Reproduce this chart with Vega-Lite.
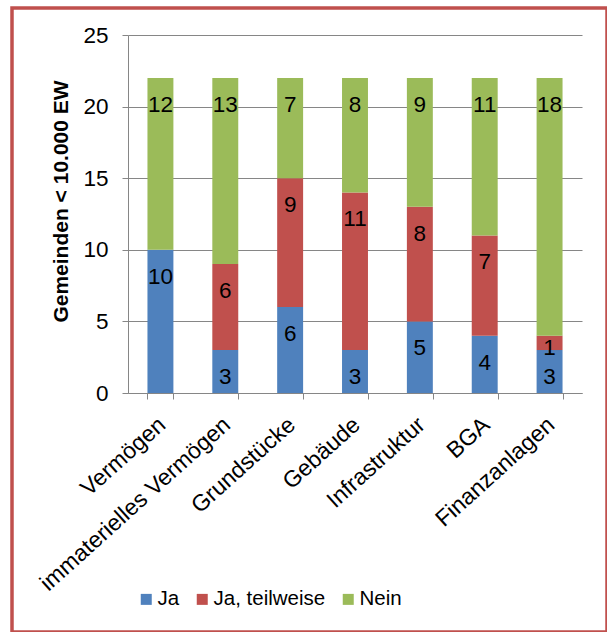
{
  "$schema": "https://vega.github.io/schema/vega-lite/v6.json",
  "autosize": {"type": "none"},
  "padding": {"left": 12, "top": 8, "right": 0, "bottom": 0},
  "width": 595,
  "height": 624,
  "background": "white",
  "config": {
    "font": "Liberation Sans",
    "view": {"stroke": "#C0504D", "strokeWidth": 3.5},
    "axis": {
      "domainColor": "#868686",
      "tickColor": "#868686",
      "gridColor": "#868686",
      "labelColor": "black",
      "titleColor": "black",
      "labelFont": "Liberation Sans",
      "titleFont": "Liberation Sans",
      "labelFontSize": 22.5
    }
  },
  "data": {
    "values": [
      {"Kategorie": "Vermögen", "Antwort": "Ja", "Anzahl": 10},
      {"Kategorie": "Vermögen", "Antwort": "Ja, teilweise", "Anzahl": 0},
      {"Kategorie": "Vermögen", "Antwort": "Nein", "Anzahl": 12},
      {"Kategorie": "immaterielles Vermögen", "Antwort": "Ja", "Anzahl": 3},
      {"Kategorie": "immaterielles Vermögen", "Antwort": "Ja, teilweise", "Anzahl": 6},
      {"Kategorie": "immaterielles Vermögen", "Antwort": "Nein", "Anzahl": 13},
      {"Kategorie": "Grundstücke", "Antwort": "Ja", "Anzahl": 6},
      {"Kategorie": "Grundstücke", "Antwort": "Ja, teilweise", "Anzahl": 9},
      {"Kategorie": "Grundstücke", "Antwort": "Nein", "Anzahl": 7},
      {"Kategorie": "Gebäude", "Antwort": "Ja", "Anzahl": 3},
      {"Kategorie": "Gebäude", "Antwort": "Ja, teilweise", "Anzahl": 11},
      {"Kategorie": "Gebäude", "Antwort": "Nein", "Anzahl": 8},
      {"Kategorie": "Infrastruktur", "Antwort": "Ja", "Anzahl": 5},
      {"Kategorie": "Infrastruktur", "Antwort": "Ja, teilweise", "Anzahl": 8},
      {"Kategorie": "Infrastruktur", "Antwort": "Nein", "Anzahl": 9},
      {"Kategorie": "BGA", "Antwort": "Ja", "Anzahl": 4},
      {"Kategorie": "BGA", "Antwort": "Ja, teilweise", "Anzahl": 7},
      {"Kategorie": "BGA", "Antwort": "Nein", "Anzahl": 11},
      {"Kategorie": "Finanzanlagen", "Antwort": "Ja", "Anzahl": 3},
      {"Kategorie": "Finanzanlagen", "Antwort": "Ja, teilweise", "Anzahl": 1},
      {"Kategorie": "Finanzanlagen", "Antwort": "Nein", "Anzahl": 18}
    ]
  },
  "transform": [
    {"stack": "Anzahl", "groupby": ["Kategorie"], "sort": [{"field": "Antwort", "order": "ascending"}], "as": ["y0", "y1"]},
    {"calculate": "datum.y1 - min(1.88, 0.84 * datum.Anzahl)", "as": "labelPos"}
  ],
  "encoding": {
    "x": {
      "field": "Kategorie",
      "type": "nominal",
      "sort": null,
      "scale": {"range": [116, 570], "paddingInner": 0.6, "paddingOuter": 0.3},
      "axis": {
        "title": null,
        "offset": -239,
        "labelAngle": -42,
        "tickSize": 6,
        "tickBand": "extent",
        "labelPadding": 14,
        "labelOffset": -6,
        "labelLimit": 400,
        "labelFontSize": 23,
        "grid": false
      }
    }
  },
  "layer": [
    {
      "mark": {"type": "bar"},
      "encoding": {
        "y": {
          "field": "y1",
          "type": "quantitative",
          "scale": {"domain": [0, 25], "range": [385, 27], "nice": false},
          "axis": {
            "title": "Gemeinden < 10.000 EW",
            "titleFontSize": 21,
            "titleFontWeight": "bold",
            "titleY": 193,
            "offset": -116,
            "values": [0, 5, 10, 15, 20, 25],
            "tickSize": 6,
            "labelPadding": 14,
            "titlePadding": 11,
            "grid": true
          }
        },
        "y2": {"field": "y0"},
        "color": {
          "field": "Antwort",
          "type": "nominal",
          "scale": {"domain": ["Ja", "Ja, teilweise", "Nein"], "range": ["#4F81BD", "#C0504D", "#9BBB59"]},
          "legend": {
            "title": null,
            "orient": "none",
            "direction": "horizontal",
            "legendX": 124,
            "legendY": 581,
            "symbolType": "square",
            "symbolSize": 121,
            "symbolStrokeWidth": 0,
            "labelFontSize": 20.5,
            "labelColor": "black",
            "labelOffset": 1,
            "columnPadding": 12
          }
        }
      }
    },
    {
      "transform": [{"filter": "datum.Anzahl > 0"}],
      "mark": {"type": "text", "fontSize": 22.5, "color": "black", "baseline": "middle", "align": "center"},
      "encoding": {
        "y": {"field": "labelPos", "type": "quantitative"},
        "text": {"field": "Anzahl", "type": "quantitative"}
      }
    }
  ]
}
